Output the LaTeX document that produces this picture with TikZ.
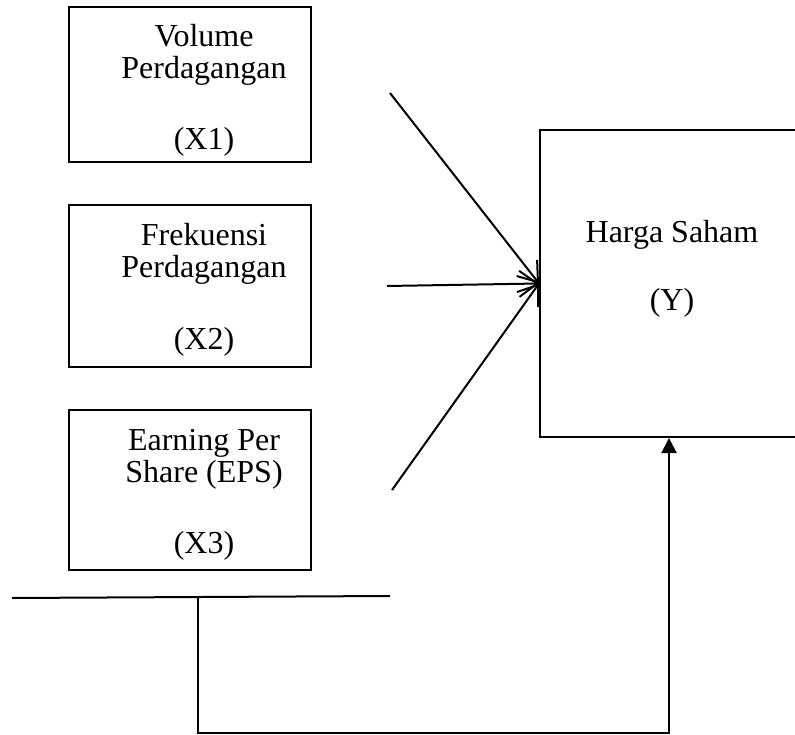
\documentclass[tikz,border=0pt]{standalone}
\usepackage{fontspec}
\setmainfont{Liberation Serif}
\usetikzlibrary{arrows.meta}
\begin{document}
\begin{tikzpicture}[x=1pt,y=-1pt,line width=2pt,
  frame/.style={draw, line width=2pt, inner sep=0pt},
  txt/.style={anchor=base, inner sep=0pt, font=\fontsize{32}{35}\selectfont},
  inflow/.style={-{Straight Barb[length=18pt,width=26pt,line width=2pt]}},
  feedback/.style={-{Triangle[length=15pt,width=15pt]}}]
\useasboundingbox (0,0) rectangle (795,735);
\clip (0,0) rectangle (795,735);

% variable boxes
\node[frame, minimum width=242pt, minimum height=155pt] (x1) at (190,85) {};
\node[frame, minimum width=242pt, minimum height=162pt] (x2) at (190,286) {};
\node[frame, minimum width=242pt, minimum height=160pt] (x3) at (190,490) {};
\node[frame, minimum width=300pt, minimum height=307pt] (y) at (690,283.5) {};

% box texts
\node[txt] (x1a) at (204,47) {Volume};
\node[txt] (x1b) at (204,79) {Perdagangan};
\node[txt] (x1c) at (204,150) {(X1)};
\node[txt] (x2a) at (204,246) {Frekuensi};
\node[txt] (x2b) at (204,278) {Perdagangan};
\node[txt] (x2c) at (204,349) {(X2)};
\node[txt] (x3a) at (204,450) {Earning Per};
\node[txt] (x3b) at (204,482) {Share (EPS)};
\node[txt] (x3c) at (204,553) {(X3)};
\node[txt] (ya) at (672,243) {Harga Saham};
\node[txt] (yb) at (672,310) {(Y)};

% free ends of the incoming arrows
\coordinate (a1) at (390,93);
\coordinate (a2) at (387,286);
\coordinate (a3) at (392,490);
\draw[inflow] (a1) -- (y.west);
\draw[inflow] (a2) -- (y.west);
\draw[inflow] (a3) -- (y.west);

% bar and feedback line
\coordinate (barL) at (12,598);
\coordinate (barR) at (390,596);
\coordinate (tee) at (198,597);
\coordinate (feed) at (669,733);
\draw (barL) -- (barR);
\draw[feedback] (tee) |- (feed) -- (feed |- y.south);
\end{tikzpicture}
\end{document}
